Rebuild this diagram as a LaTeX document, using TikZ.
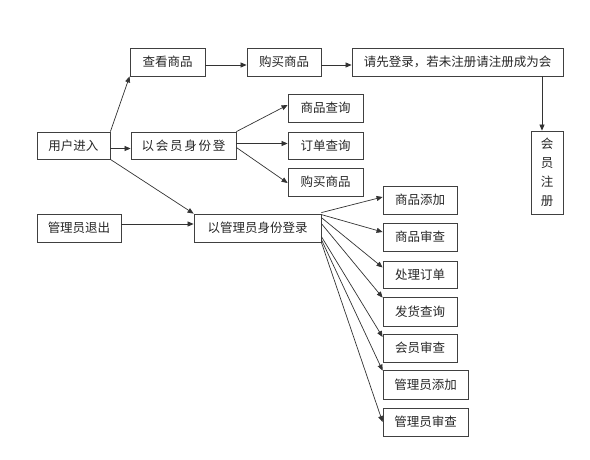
\documentclass[tikz,border=0pt]{standalone}
\usepackage{fontspec}
\newfontfamily\cjk{Noto Sans CJK SC}
\newfontfamily\cjkwide[LetterSpace=14]{Noto Sans CJK SC}
\usetikzlibrary{arrows.meta,calc}
\begin{document}
\begin{tikzpicture}[x=1pt,y=-1pt,
  box/.style={draw=black!75,line width=0.8pt,inner sep=0pt,minimum height=28pt,
    font=\cjk\fontsize{12.5}{15}\selectfont,text=black!85},
  arr/.style={draw=black!80,line width=0.7pt,-{Triangle[length=6pt,width=5pt]}}]
\useasboundingbox (0,0) rectangle (590,460);
% top row
\node[box,minimum width=75pt] (ck) at (167.5,62) {查看商品};
\node[box,minimum width=74pt] (gm1) at (284,62) {购买商品};
\node[box,minimum width=211pt] (qx) at (457.5,62) {请先登录，若未注册请注册成为会};
\node[box,minimum width=32pt,minimum height=83pt,align=center,
  font=\cjk\fontsize{12.5}{19}\selectfont] (zc) at (547,172.5) {会\\员\\注\\册};
% user row
\node[box,minimum width=73pt,minimum height=27pt] (yh) at (73.5,145.5) {用户进入};
\node[box,minimum width=105pt,minimum height=27pt,font=\cjkwide\fontsize{12.5}{15}\selectfont] (hy) at (183.5,145.5) {以会员身份登};
\node[box,minimum width=75pt] (cx) at (325.5,108) {商品查询};
\node[box,minimum width=75pt,minimum height=27pt] (dd) at (325.5,145.5) {订单查询};
\node[box,minimum width=75pt] (gm2) at (325.5,182) {购买商品};
% admin
\node[box,minimum width=84pt] (tc) at (79,228) {管理员退出};
\node[box,minimum width=127pt] (gl) at (257.5,228) {以管理员身份登录};
\node[box,minimum width=74pt] (a1) at (420,200) {商品添加};
\node[box,minimum width=74pt] (a2) at (420,237) {商品审查};
\node[box,minimum width=74pt,minimum height=27pt] (a3) at (420,274.5) {处理订单};
\node[box,minimum width=74pt,minimum height=29pt] (a4) at (420,311.5) {发货查询};
\node[box,minimum width=74pt] (a5) at (420,348) {会员审查};
\node[box,minimum width=85pt,minimum height=29pt] (a6) at (425.5,384.5) {管理员添加};
\node[box,minimum width=85pt] (a7) at (425.5,422) {管理员审查};
% connectors
\draw[arr] ([yshift=-3pt]ck.east) -- ([yshift=-3pt]gm1.west);
\draw[arr] ([yshift=-3pt]gm1.east) -- ([yshift=-3pt]qx.west);
\draw[arr] ([xshift=-5pt]zc.north |- qx.south) -- ([xshift=-5pt]zc.north);
\draw[arr] (yh.north east) -- (ck.south west);
\draw[arr] ([yshift=-3pt]yh.east) -- ([yshift=-3pt]hy.west);
\draw[arr] (yh.south east) -- (gl.north west);
\draw[arr] ([yshift=4pt]tc.east) -- ([yshift=4pt]gl.west);
\draw[arr] (hy.north east) -- ([yshift=3pt]cx.west);
\draw[arr] ([yshift=2pt]hy.east) -- ([yshift=2pt]dd.west);
\draw[arr] ([yshift=-2pt]hy.east) -- ([yshift=-1pt]gm2.west);
\draw[arr] ([yshift=1pt]gl.north east) -- ([yshift=3pt]a1.west);
\draw[arr] ([yshift=-1pt]gl.north east) -- ([yshift=5pt]a2.west);
\draw[arr] ([yshift=-4pt]gl.north east) -- ([yshift=7pt]a3.west);
\draw[arr] ([yshift=-10pt]gl.north east) -- ([yshift=-1pt]a4.north west);
\draw[arr] ([yshift=-23pt]gl.north east) -- ([yshift=11pt]a5.west);
\draw[arr] ([yshift=-26pt]gl.north east) -- ([yshift=-1pt]a6.north west);
\draw[arr] (gl.south east) -- (a7.west);
\end{tikzpicture}
\end{document}
